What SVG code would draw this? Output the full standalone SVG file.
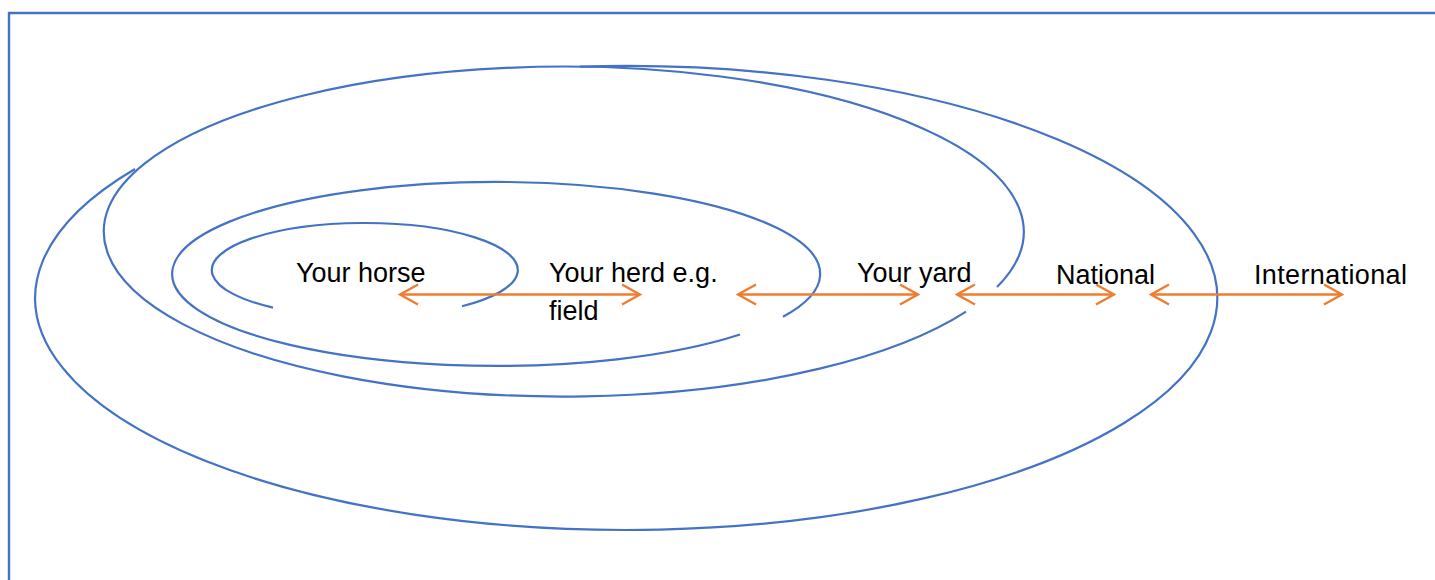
<svg xmlns="http://www.w3.org/2000/svg" width="1435" height="580" viewBox="0 0 1435 580">
  <style>
    .ring { fill: none; stroke: #4472C4; stroke-width: 2.2; }
    .frame { fill: none; stroke: #4472C4; stroke-width: 2.4; }
    .conn { fill: none; stroke: #ED7D31; stroke-width: 2.4; }
    .lbl { font-family: "Liberation Sans", Arial, sans-serif; font-size: 27px; fill: #000000; }
  </style>
  <defs>
    <marker id="chev" viewBox="-21 -12 23 24" refX="0" refY="0" markerWidth="23" markerHeight="24" markerUnits="userSpaceOnUse" orient="auto-start-reverse">
      <path d="M-18,-10 L0,0 L-18,10" fill="none" stroke="#ED7D31" stroke-width="2.4"/>
    </marker>
  </defs>
  <rect width="1435" height="580" fill="#ffffff"/>
  <path class="frame" d="M9,580 V13 H1436"/>

  <g id="ring-international">
    <path class="ring" d="M135,169 A591,232 0 1 0 580,66.7"/>
  </g>
  <g id="ring-national">
    <path class="ring" d="M997,287 A460,165 0 1 0 966,311.6"/>
  </g>
  <g id="ring-yard">
    <path class="ring" d="M783,316.7 A324,92 0 1 0 740,334.5"/>
  </g>
  <g id="ring-horse">
    <path class="ring" d="M462,306.3 A153,47 0 1 0 273,307.6"/>
  </g>

  <g id="connectors">
    <line class="conn" x1="400" y1="294.5" x2="640" y2="294.5" marker-start="url(#chev)" marker-end="url(#chev)"/>
    <line class="conn" x1="738" y1="294.5" x2="918" y2="294.5" marker-start="url(#chev)" marker-end="url(#chev)"/>
    <line class="conn" x1="957" y1="294.5" x2="1114" y2="294.5" marker-start="url(#chev)" marker-end="url(#chev)"/>
    <line class="conn" x1="1151" y1="294.5" x2="1342" y2="294.5" marker-start="url(#chev)" marker-end="url(#chev)"/>
  </g>

  <g id="label-horse"><text class="lbl" x="296" y="282">Your horse</text></g>
  <g id="label-herd">
    <text class="lbl" x="549" y="282">Your herd e.g.</text>
    <text class="lbl" x="549" y="320">field</text>
  </g>
  <g id="label-yard"><text class="lbl" x="857" y="282">Your yard</text></g>
  <g id="label-national"><text class="lbl" x="1056" y="284">National</text></g>
  <g id="label-international"><text class="lbl" x="1254" y="284" textLength="153" lengthAdjust="spacing">International</text></g>
</svg>
